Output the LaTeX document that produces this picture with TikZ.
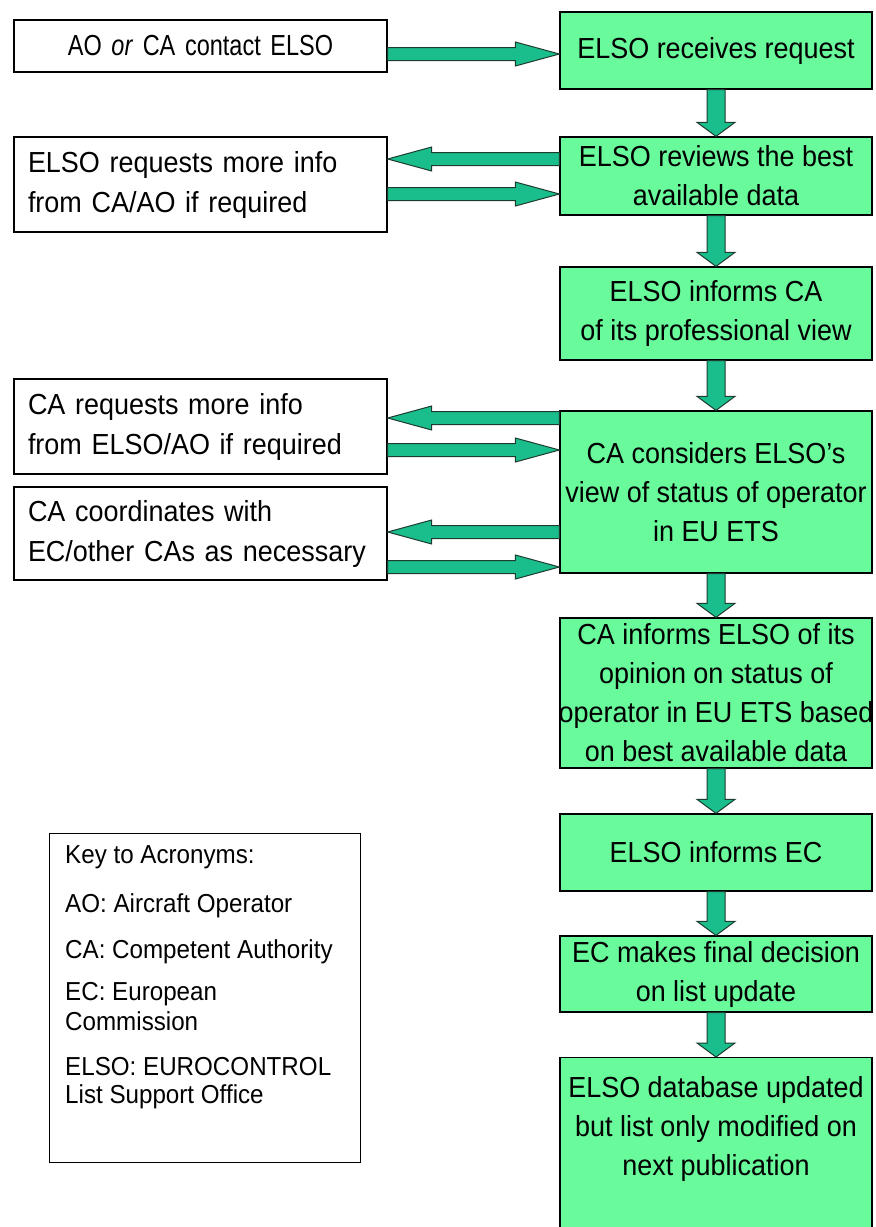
\documentclass[tikz,border=0pt]{standalone}
\usepackage{fontspec}
\setmainfont{Liberation Sans}[FakeStretch=0.93]
\newfontfamily\narrowfont{Liberation Sans}[FakeStretch=0.81]
\usetikzlibrary{calc}
\definecolor{boxgreen}{RGB}{104,250,155}
\definecolor{arrteal}{RGB}{25,190,140}
\definecolor{arredge}{RGB}{30,60,45}
\newcommand\rarr[2]{\draw[blk] ($(#1)+(0,-6.5)$) -- ($(#2)+(-44,-6.5)$) -- ($(#2)+(-44,-12)$) -- (#2) -- ($(#2)+(-44,12)$) -- ($(#2)+(-44,6.5)$) -- ($(#1)+(0,6.5)$) -- cycle;}
\newcommand\larr[2]{\draw[blk] ($(#1)+(0,-6.5)$) -- ($(#2)+(44,-6.5)$) -- ($(#2)+(44,-12)$) -- (#2) -- ($(#2)+(44,12)$) -- ($(#2)+(44,6.5)$) -- ($(#1)+(0,6.5)$) -- cycle;}
\newcommand\darr[2]{\draw[blk] ($(#1)+(-9,0)$) -- ($(#2)+(-9,-14)$) -- ($(#2)+(-19,-14)$) -- (#2) -- ($(#2)+(19,-14)$) -- ($(#2)+(9,-14)$) -- ($(#1)+(9,0)$) -- cycle;}
\begin{document}
\begin{tikzpicture}[x=1pt,y=-1pt,
 gbox/.style={draw=black, line width=1.3pt, fill=boxgreen, minimum width=312pt, inner xsep=0pt, align=center, font=\fontsize{29}{39}\selectfont},
 gtext/.style={inner sep=0pt, align=center, font=\fontsize{29}{39}\selectfont},
 wbox/.style={draw=black, line width=1.3pt, fill=white, minimum width=373pt, text width=345pt, inner xsep=14pt, align=left, font=\fontsize{29}{40}\selectfont},
 blk/.style={draw=arredge, line width=1pt, fill=arrteal, line join=miter},
 keytxt/.style={anchor=base west, inner sep=0pt, font=\fontsize{26}{30}\selectfont}]
\useasboundingbox (0,0) rectangle (876,1227);
\clip (0,0) rectangle (876,1227);
% green process boxes
\node[gbox, minimum height=77pt] (g1) at (716,50.5) {ELSO receives request};
\node[gbox, minimum height=78pt] (g2) at (716,176) {ELSO reviews the best\\available data};
\node[gbox, minimum height=93pt] (g3) at (716,313.5) {ELSO informs CA\\of its professional view};
\node[gbox, minimum height=162pt] (g4) at (716,492) {CA considers ELSO’s\\view of status of operator\\in EU ETS};
\node[gbox, minimum height=150pt] (g5) at (716,693) {CA informs ELSO of its\\opinion on status of\\\makebox[0pt]{operator in EU ETS based}\\on best available data};
\node[gbox, minimum height=77pt] (g6) at (716,852.5) {ELSO informs EC};
\node[gbox, minimum height=76pt] (g7) at (716,974) {EC makes final decision\\on list update};
\node[gbox, minimum height=190pt, anchor=north] (g8) at (716,1057) {};
\node[gtext] (g8t) at (716,1129) {ELSO database updated\\but list only modified on\\next publication};
% white boxes
\node[wbox, minimum height=52pt, align=center, font=\narrowfont\fontsize{29}{39}\selectfont] (bA) at (200.5,46) {AO \textit{or} CA contact ELSO};
\node[wbox, minimum height=95pt] (bB) at (200.5,184.5) {ELSO requests more info\\from CA/AO if required};
\node[wbox, minimum height=95pt] (bC) at (200.5,426.5) {CA requests more info\\from ELSO/AO if required};
\node[wbox, minimum height=93pt] (bD) at (200.5,533.5) {CA coordinates with\\EC/other CAs as necessary};
% key
\node[draw=black, line width=1.3pt, fill=white, minimum width=311pt, minimum height=329pt, anchor=north west, inner sep=0pt] (key) at (49,833) {};
\node[keytxt] (k1) at (65,863) {Key to Acronyms:};
\node[keytxt] (k2) at (65,912) {AO: Aircraft Operator};
\node[keytxt] (k3) at (65,958) {CA: Competent Authority};
\node[keytxt] (k4) at (65,1000) {EC: European};
\node[keytxt] (k5) at (65,1030) {Commission};
\node[keytxt] (k6) at (65,1075) {ELSO: EUROCONTROL};
\node[keytxt] (k7) at (65,1103) {List Support Office};
% arrow levels
\coordinate (yA) at (0,54);
\coordinate (yB1) at (0,159);
\coordinate (yB2) at (0,194);
\coordinate (yC1) at (0,418);
\coordinate (yC2) at (0,450);
\coordinate (yD1) at (0,532);
\coordinate (yD2) at (0,567);
% horizontal arrows
\rarr{bA.east |- yA}{g1.west |- yA}
\larr{g2.west |- yB1}{bB.east |- yB1}
\rarr{bB.east |- yB2}{g2.west |- yB2}
\larr{g4.west |- yC1}{bC.east |- yC1}
\rarr{bC.east |- yC2}{g4.west |- yC2}
\larr{g4.west |- yD1}{bD.east |- yD1}
\rarr{bD.east |- yD2}{g4.west |- yD2}
% vertical arrows
\darr{g1.south}{g2.north}
\darr{g2.south}{g3.north}
\darr{g3.south}{g4.north}
\darr{g4.south}{g5.north}
\darr{g5.south}{g6.north}
\darr{g6.south}{g7.north}
\darr{g7.south}{g8.north}
\end{tikzpicture}
\end{document}
